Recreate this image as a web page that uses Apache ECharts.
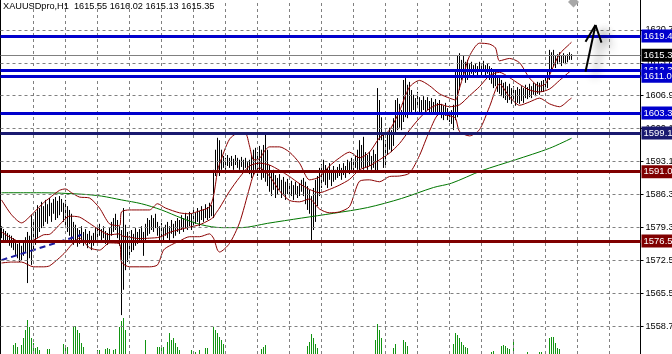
<!DOCTYPE html>
<html>
<head>
<meta charset="utf-8">
<script src="https://cdn.jsdelivr.net/npm/echarts@6/dist/echarts.min.js"></script>
<style>
html, body { margin: 0; padding: 0; background: #fff; }
#chart { width: 672px; height: 354px; }
</style>
</head>
<body>
<div id="chart"></div>
<script>
// XAUUSDpro H1, one entry per hourly bar (oldest first)
const highs = [
  1579.6,1579.0,1578.6,1578.2,1577.8,1577.6,1577.1,1576.7,1575.9,1576.3,
  1575.5,1576.7,1577.3,1578.4,1577.6,1581.9,1580.9,1582.6,1584.0,1583.4,
  1584.7,1583.8,1585.1,1584.2,1585.5,1584.5,1585.3,1585.7,1584.9,1585.9,
  1585.3,1584.5,1585.1,1583.8,1583.0,1582.2,1580.5,1579.9,1579.2,1578.8,
  1579.6,1578.4,1579.0,1578.0,1578.6,1577.6,1578.2,1579.2,1579.9,1580.1,
  1579.0,1579.6,1578.6,1578.2,1579.2,1580.5,1581.3,1582.2,1580.9,1579.6,
  1578.8,1583.4,1579.9,1578.4,1577.6,1578.8,1578.0,1579.2,1578.4,1579.0,
  1579.6,1578.4,1580.1,1581.3,1580.9,1581.9,1581.3,1582.2,1580.5,1579.6,
  1580.3,1579.2,1579.9,1580.5,1579.6,1580.9,1580.1,1580.7,1581.3,1580.9,
  1581.9,1581.3,1582.4,1581.7,1582.6,1582.2,1583.0,1582.4,1583.4,1582.8,
  1583.8,1583.2,1584.2,1583.6,1584.5,1584.0,1591.4,1595.6,1598.1,1597.6,
  1595.6,1594.3,1593.9,1594.5,1593.9,1594.3,1593.7,1594.5,1593.9,1593.5,
  1594.1,1593.5,1593.9,1593.0,1593.5,1594.5,1595.6,1596.0,1595.1,1596.4,
  1595.6,1596.6,1599.1,1595.6,1592.4,1590.9,1591.4,1590.3,1589.7,1590.5,
  1589.3,1589.9,1588.9,1589.5,1588.4,1589.1,1588.2,1588.9,1588.0,1588.6,
  1589.3,1589.7,1588.9,1588.0,1587.2,1585.9,1587.6,1589.3,1590.1,1591.8,
  1592.6,1593.5,1592.4,1591.8,1592.8,1591.4,1592.2,1591.4,1592.0,1592.6,
  1591.8,1592.8,1592.2,1593.5,1593.0,1593.9,1593.2,1594.3,1595.6,1597.6,
  1596.6,1598.3,1595.1,1594.5,1595.1,1594.3,1595.6,1594.7,1608.5,1606.0,
  1602.4,1599.1,1597.6,1599.3,1600.2,1599.7,1602.2,1606.0,1606.4,1605.2,
  1603.9,1610.2,1610.6,1609.2,1609.8,1608.1,1607.1,1606.4,1607.7,1606.6,
  1606.0,1606.8,1606.0,1606.6,1605.8,1606.4,1605.6,1606.2,1605.4,1606.0,
  1605.2,1604.8,1605.4,1604.3,1603.5,1603.9,1605.0,1612.3,1615.4,1615.8,
  1614.4,1615.2,1614.0,1614.4,1613.5,1614.0,1613.3,1613.7,1613.1,1614.0,
  1613.5,1614.2,1613.3,1613.7,1613.1,1612.7,1612.3,1611.9,1611.2,1610.6,
  1610.2,1609.6,1609.8,1608.9,1609.4,1608.5,1608.9,1608.1,1608.7,1608.3,
  1608.9,1608.5,1609.2,1608.7,1609.4,1608.9,1609.6,1609.4,1609.8,1609.6,
  1610.0,1610.2,1610.6,1611.9,1616.5,1616.0,1616.5,1615.2,1615.6,1616.0,
  1615.4,1615.8,1615.2,1615.6,1616.0,1615.6
];
const lows = [
  1577.1,1576.7,1576.3,1576.1,1575.5,1575.1,1574.6,1573.6,1572.9,1572.1,
  1572.5,1573.4,1574.2,1567.7,1572.9,1571.5,1574.6,1575.7,1577.1,1578.4,
  1579.2,1579.6,1580.5,1580.1,1581.7,1580.5,1582.2,1580.9,1581.3,1581.9,
  1582.6,1580.5,1579.2,1578.4,1577.6,1576.7,1575.7,1576.7,1575.3,1575.9,
  1576.7,1575.5,1576.1,1575.0,1575.9,1574.6,1575.5,1576.7,1577.1,1577.6,
  1576.5,1577.1,1575.9,1575.7,1576.7,1577.6,1578.4,1578.8,1577.1,1575.5,
  1561.0,1566.3,1570.4,1572.1,1572.9,1574.2,1574.6,1575.5,1575.9,1576.3,
  1576.7,1573.4,1576.7,1577.6,1578.0,1578.8,1578.4,1579.2,1577.6,1576.7,
  1577.1,1576.3,1577.6,1577.1,1576.7,1578.0,1577.1,1577.6,1578.4,1578.0,
  1578.8,1578.4,1579.2,1578.8,1579.6,1578.8,1579.6,1580.1,1580.5,1579.6,
  1580.9,1580.5,1581.3,1580.9,1581.3,1581.7,1581.3,1590.1,1590.9,1590.1,
  1591.4,1591.8,1591.4,1592.2,1591.8,1592.2,1591.4,1592.4,1591.8,1591.4,
  1592.0,1591.2,1591.8,1590.9,1590.5,1589.7,1590.3,1591.4,1590.1,1590.9,
  1589.3,1589.7,1588.9,1588.0,1586.8,1585.9,1587.2,1585.5,1586.3,1587.2,
  1585.5,1586.3,1585.1,1586.3,1585.5,1585.9,1585.1,1586.3,1585.5,1585.9,
  1586.8,1585.9,1584.2,1583.0,1582.2,1576.3,1578.8,1580.5,1583.8,1585.9,
  1587.6,1588.9,1588.2,1587.6,1589.3,1588.0,1588.9,1589.3,1589.7,1590.1,
  1589.3,1590.3,1589.7,1591.0,1590.5,1591.4,1591.0,1591.8,1591.4,1590.9,
  1591.8,1591.4,1591.8,1591.4,1592.2,1591.4,1591.8,1590.9,1590.9,1597.6,
  1597.6,1591.8,1592.2,1594.5,1595.6,1595.1,1596.4,1598.7,1599.7,1600.2,
  1599.7,1601.4,1602.4,1602.2,1603.5,1603.3,1603.9,1603.5,1604.3,1603.5,
  1603.3,1603.9,1603.1,1603.9,1602.9,1603.5,1603.3,1603.5,1602.7,1603.1,
  1602.2,1601.8,1602.7,1601.8,1601.4,1601.0,1599.7,1601.8,1602.4,1608.1,
  1610.2,1610.8,1609.6,1610.2,1611.0,1611.5,1611.0,1611.7,1610.8,1611.9,
  1611.2,1612.1,1611.0,1611.5,1610.2,1609.4,1608.5,1608.9,1607.7,1607.3,
  1606.8,1606.4,1606.0,1605.4,1606.0,1605.2,1605.6,1604.8,1605.4,1605.2,
  1605.8,1605.4,1606.4,1606.2,1606.6,1606.4,1607.1,1606.8,1607.3,1607.1,
  1607.7,1607.7,1608.1,1608.5,1610.2,1611.9,1613.1,1612.7,1613.5,1613.9,
  1613.1,1613.7,1613.5,1613.9,1614.4,1614.4
];
// tick volume (only the visible top part of the volume histogram), [bar, volume]
const volumes = [
  [6,9],[7,11],[8,7],[10,9],[11,16],[12,24],[13,34],[14,27],[15,16],[16,11],[17,6],[18,7],[19,4],
  [23,5],[24,5],[31,10],[32,9],[33,7],[36,28],[37,28],[38,24],[39,21],[40,11],[41,7],
  [48,4],[49,4],[52,5],[53,6],[54,5],[56,4],[57,5],[59,27],[60,33],[61,36],[62,24],
  [72,14],[78,7],[79,7],[80,9],[81,7],[83,12],[84,21],[85,14],[86,16],[87,11],[88,7],[89,4],
  [95,4],[97,2],[99,4],[102,6],[103,6],[106,27],[107,24],[108,21],[109,17],[110,14],[111,10],
  [130,5],[131,7],[132,9],[153,8],[154,12],[155,20],[156,16],[157,10],[158,6],
  [187,14],[188,30],[189,24],[190,16],[196,6],[197,10],[201,14],[202,12],[203,8],
  [226,10],[227,21],[228,19],[229,16],[230,12],[231,9],[232,7],[233,6],[245,2],[246,3],
  [250,8],[251,9],[252,8],[253,6],[254,5],[256,15],[263,2],[269,2],[270,2],
  [274,16],[275,17],[276,17],[277,11],[278,6],[279,5]
];
// Bollinger bands (20, 2) and the long moving average, read as [bar, price]
const bandUpper = [
  [0,1585.1],[5,1582.0],[10,1580.3],[16,1582.4],[21,1584.5],[24,1585.5],[29,1587.1],[32,1587.4],
  [35,1586.6],[39,1585.7],[44,1585.5],[49,1583.4],[54,1580.1],[59,1579.7],[60,1582.6],[64,1583.0],
  [74,1583.0],[78,1584.3],[82,1583.4],[89,1582.4],[94,1582.2],[99,1582.8],[104,1583.6],[106,1585.9],
  [107,1588.4],[108,1591.2],[109,1592.6],[114,1597.8],[119,1599.2],[122,1599.1],[124,1596.4],[126,1593.5],
  [128,1593.5],[130,1594.3],[132,1595.6],[134,1596.2],[139,1596.2],[144,1595.1],[149,1592.8],[154,1589.3],
  [159,1589.9],[164,1592.2],[169,1593.9],[174,1595.1],[179,1593.9],[184,1595.1],[189,1598.1],[194,1599.7],
  [199,1603.7],[204,1608.7],[209,1610.1],[214,1609.0],[219,1607.3],[224,1606.4],[227,1606.0],[229,1608.5],
  [231,1611.2],[234,1615.2],[239,1617.9],[244,1617.7],[247,1616.9],[249,1614.2],[254,1614.7],[259,1613.8],
  [264,1610.6],[269,1608.9],[272,1609.4],[274,1611.2],[279,1615.6],[284,1617.7],[285,1618.1]
];
const bandMiddle = [
  [0,1578.4],[5,1577.1],[10,1576.3],[16,1576.7],[21,1577.8],[24,1577.9],[29,1579.9],[34,1581.7],
  [39,1581.5],[44,1580.2],[49,1578.8],[54,1577.8],[59,1578.0],[60,1577.6],[64,1577.3],[69,1577.0],
  [74,1577.1],[79,1577.3],[84,1578.3],[89,1578.9],[94,1579.4],[99,1579.9],[104,1580.9],[106,1581.5],
  [107,1582.2],[108,1582.8],[109,1583.4],[114,1586.9],[119,1589.8],[124,1592.2],[129,1592.8],[134,1592.4],
  [139,1591.3],[144,1590.0],[149,1588.5],[154,1587.3],[159,1586.6],[164,1587.3],[169,1588.2],[174,1589.4],
  [179,1591.4],[184,1592.2],[189,1593.5],[194,1594.9],[199,1596.9],[204,1599.7],[209,1602.2],[214,1604.2],
  [219,1605.1],[224,1604.6],[229,1605.0],[234,1606.9],[239,1608.8],[244,1611.1],[249,1611.8],[254,1610.7],
  [259,1609.3],[264,1608.1],[269,1607.7],[274,1608.3],[279,1610.1],[284,1611.9],[285,1612.2]
];
const bandLower = [
  [0,1571.9],[5,1572.1],[10,1572.1],[16,1571.1],[21,1571.1],[24,1571.3],[29,1573.0],[32,1574.2],
  [35,1575.7],[39,1577.1],[44,1575.1],[49,1574.6],[54,1576.1],[59,1575.9],[60,1572.1],[64,1571.1],
  [74,1571.1],[78,1571.5],[81,1574.6],[84,1575.5],[89,1576.5],[94,1577.4],[99,1577.4],[104,1578.0],
  [106,1577.1],[107,1575.9],[108,1574.6],[109,1574.2],[114,1576.0],[119,1580.3],[124,1587.6],[126,1590.3],
  [129,1591.8],[134,1590.1],[139,1587.0],[144,1585.0],[149,1584.7],[154,1585.3],[159,1583.2],[164,1582.4],
  [169,1582.6],[174,1583.7],[179,1589.0],[184,1589.3],[189,1588.9],[194,1590.0],[199,1590.1],[204,1590.7],
  [209,1594.4],[214,1599.5],[219,1603.1],[224,1602.7],[227,1602.2],[229,1599.4],[234,1598.5],[239,1599.8],
  [244,1604.6],[249,1609.4],[254,1606.7],[259,1604.9],[264,1605.6],[269,1606.4],[274,1605.2],[279,1604.6],
  [284,1606.1],[285,1606.4]
];
const maLong = [
  [0,1586.6],[20,1586.6],[40,1586.3],[50,1585.9],[60,1585.1],[70,1584.3],[80,1583.0],[90,1581.3],
  [100,1579.9],[110,1579.3],[120,1579.3],[133,1580.2],[150,1581.3],[166,1582.3],[183,1583.5],[200,1585.4],
  [216,1587.7],[225,1588.6],[240,1591.2],[257,1593.5],[274,1595.9],[285,1598.0]
];
const trendLine = [[0,1572.5],[40,1577.8]];

// horizontal levels drawn by the trader
const blueLevels = [1619.40, 1612.30, 1611.00, 1603.30];
const navyLevels = [1599.10];
const redLevels = [1591.00, 1576.50];
const bidPrice = 1615.35;
// price scale ticks on the right
const priceTicks = [1620.70, 1613.80, 1606.90, 1600.10, 1593.10, 1586.30, 1579.30, 1572.50, 1565.50, 1558.70];
const timeGrid = [16, 32, 48, 64, 80, 96, 112, 128, 144, 160, 176, 192, 208, 224, 240, 256, 272, 288, 304];
const arrowFrom = [292, 1611.9];
const arrowTip = [297, 1621.7];
const arrowBarbs = [[292, 1618.2], [300, 1618.0]];

const slots = 320;
const categories = Array.from({ length: slots }, (_, i) => String(i));
const hlData = highs.map((h, i) => [i, lows[i], h]);

const FONT = '"Liberation Sans", Arial, sans-serif';
const chart = echarts.init(document.getElementById('chart'), null, { renderer: 'canvas' });

function levelLine(v, color) {
  return {
    yAxis: v,
    lineStyle: { color: color, width: 3, type: 'solid' },
    label: {
      show: true, position: 'end', distance: 1,
      formatter: v.toFixed(2), color: '#fff', backgroundColor: color,
      fontFamily: FONT, fontSize: 9.5, padding: [2, 2, 1, 2]
    }
  };
}

// a vertical 1px stroke from value a to value b at bar i, snapped to the pixel grid
function stick(api, i, a, b, color) {
  const p1 = api.coord([i, a]);
  const p2 = api.coord([i, b]);
  const x = Math.round(p1[0] - 0.5) + 0.5;
  return {
    type: 'line',
    shape: { x1: x, y1: p1[1], x2: x, y2: p2[1] },
    style: { stroke: color, lineWidth: 1 }
  };
}

function bandSeries(data, color) {
  return {
    type: 'line', data: data, z: 4, symbol: 'none', smooth: 0.25, silent: true,
    lineStyle: { color: color, width: 1 }
  };
}

const option = {
  animation: false,
  backgroundColor: '#fff',
  title: {
    text: 'XAUUSDpro,H1  1615.55 1616.02 1615.13 1615.35',
    left: 3, top: 2, padding: 0,
    textStyle: { fontFamily: FONT, fontSize: 9.2, fontWeight: 'normal', color: '#000' }
  },
  grid: {
    left: 0.5, right: 31.5, top: 0, bottom: 0,
    containLabel: false, outerBoundsMode: 'none'
  },
  xAxis: {
    type: 'category', data: categories, boundaryGap: true,
    axisLine: { show: false }, axisTick: { show: false }, axisLabel: { show: false },
    splitLine: { show: false }
  },
  yAxis: [
    {
      type: 'value', position: 'right', min: 1552.86, max: 1626.93, scale: true,
      axisLine: { show: true, lineStyle: { color: '#000', width: 1 } },
      axisTick: { show: true, customValues: priceTicks, length: 3, lineStyle: { color: '#000' } },
      axisLabel: {
        show: true, customValues: priceTicks, margin: 5, color: '#000',
        fontFamily: FONT, fontSize: 9.2, formatter: v => v.toFixed(2)
      },
      splitLine: { show: false }
    },
    {
      type: 'value', position: 'left', min: 1552.86, max: 1626.93,
      axisLine: { show: true, onZero: false, lineStyle: { color: '#000', width: 1 } },
      axisTick: { show: false }, axisLabel: { show: false }, splitLine: { show: false }
    },
    {
      type: 'value', min: 0, max: 354, show: false
    }
  ],
  series: [
    {
      // chart grid
      type: 'line', data: [], z: 1, silent: true,
      markLine: {
        silent: true, symbol: ['none', 'none'], animation: false,
        label: { show: false },
        lineStyle: { color: '#808080', width: 1, type: [3, 3] },
        data: priceTicks.map(v => ({ yAxis: v })).concat(timeGrid.map(i => ({ xAxis: i })))
      }
    },
    {
      type: 'custom', yAxisIndex: 2, data: volumes, z: 2, silent: true,
      encode: { x: 0, y: 1 },
      renderItem: (params, api) => stick(api, api.value(0), 0, api.value(1), '#129412')
    },
    {
      type: 'custom', data: hlData, z: 3, silent: true,
      encode: { x: 0, y: [1, 2] },
      renderItem: (params, api) => stick(api, api.value(0), api.value(1), api.value(2), '#000')
    },
    {
      type: 'line', data: trendLine, z: 4, symbol: 'none', silent: true,
      lineStyle: { color: '#1c1ca0', width: 2, type: [6, 4] }
    },
    {
      type: 'line', data: maLong, z: 4, symbol: 'none', smooth: 0.3, silent: true,
      lineStyle: { color: '#007700', width: 1 }
    },
    bandSeries(bandUpper, '#8b0000'),
    bandSeries(bandMiddle, '#8b0000'),
    bandSeries(bandLower, '#8b0000'),
    {
      // levels and bid line
      type: 'line', data: [], z: 5, silent: true,
      markLine: {
        silent: true, symbol: ['none', 'none'], animation: false,
        data: [
          {
            yAxis: bidPrice,
            lineStyle: { color: '#808080', width: 1, type: 'solid' },
            label: {
              show: true, position: 'end', distance: 1, formatter: bidPrice.toFixed(2),
              color: '#fff', backgroundColor: '#000', fontFamily: FONT, fontSize: 9.5, padding: [2, 2, 1, 2]
            }
          }
        ].concat(redLevels.map(v => levelLine(v, '#800000')))
         .concat(navyLevels.map(v => levelLine(v, '#191970')))
         .concat(blueLevels.map(v => levelLine(v, '#0000cd')))
      }
    },
    {
      // hand-drawn arrow
      type: 'line', data: [], z: 6, silent: true,
      markLine: {
        silent: true, symbol: ['none', 'none'], animation: false,
        label: { show: false },
        lineStyle: {
          color: '#000', width: 2, type: 'solid',
          shadowColor: 'rgba(0,0,0,0.45)', shadowBlur: 8, shadowOffsetX: 9, shadowOffsetY: 6
        },
        data: [
          [{ coord: arrowFrom }, { coord: arrowTip }],
          [{ coord: arrowBarbs[0] }, { coord: arrowTip }],
          [{ coord: arrowBarbs[1] }, { coord: arrowTip }]
        ]
      },
      markPoint: {
        silent: true, animation: false,
        symbol: 'diamond', symbolSize: [11, 11],
        itemStyle: { color: '#a8a8a8' }, label: { show: false },
        data: [{ coord: [286, 1626.5] }]
      }
    }
  ]
};

chart.setOption(option);
</script>
</body>
</html>
